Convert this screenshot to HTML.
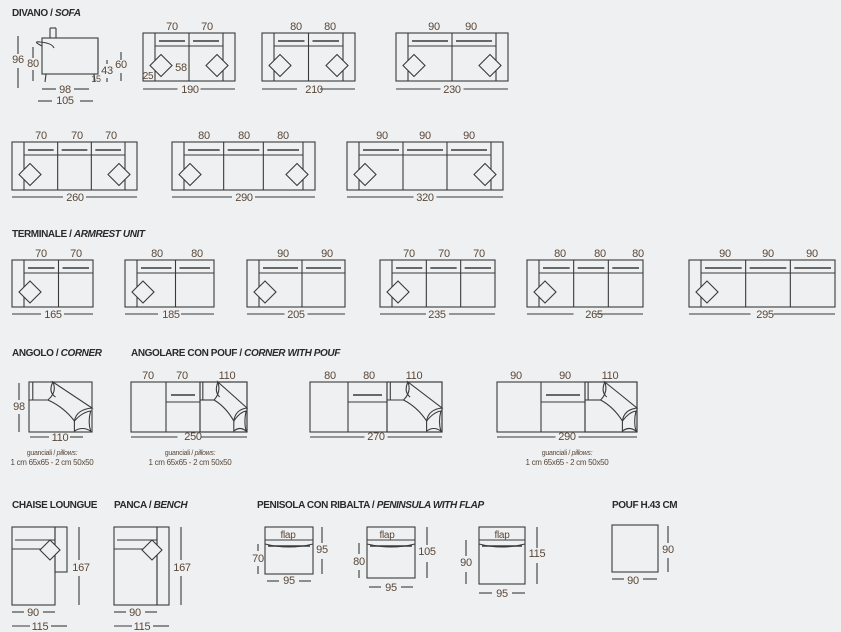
<!DOCTYPE html>
<html><head><meta charset="utf-8"><style>
html,body{margin:0;padding:0;background:#eff0f2;}
svg{display:block;}
text{font-family:"Liberation Sans",sans-serif;}
.h{font-size:10px;font-weight:bold;fill:#2a2a2a;letter-spacing:-0.4px;}
.hi{font-style:italic;}
.d{font-size:11px;fill:#5a4838;letter-spacing:-0.3px;}
.s{font-size:8px;fill:#5a4838;letter-spacing:-0.3px;}
</style></head><body>
<svg id="s" width="841" height="632" viewBox="0 0 841 632" xmlns="http://www.w3.org/2000/svg">
<g id="g" fill="none" stroke="#3a3a3a" stroke-width="1.1"></g>
<text class="h" x="12" y="16">DIVANO / <tspan class="hi">SOFA</tspan></text>
<text class="h" x="12" y="237">TERMINALE / <tspan class="hi">ARMREST UNIT</tspan></text>
<text class="h" x="12" y="356">ANGOLO / <tspan class="hi">CORNER</tspan></text>
<text class="h" x="131" y="356">ANGOLARE CON POUF  / <tspan class="hi">CORNER WITH POUF</tspan></text>
<text class="h" x="12" y="508">CHAISE LOUNGUE</text>
<text class="h" x="114" y="508">PANCA / <tspan class="hi">BENCH</tspan></text>
<text class="h" x="257" y="508">PENISOLA CON RIBALTA / <tspan class="hi">PENINSULA WITH FLAP</tspan></text>
<text class="h" x="612" y="508">POUF H.43 CM</text>
<g class="d" text-anchor="middle">
<text x="18" y="63">96</text><text x="33" y="67">80</text><text x="107" y="74">43</text><text x="121" y="68">60</text><text x="96" y="82" font-size="9">15</text>
<text x="65" y="93">98</text><text x="65" y="104">105</text><text x="148" y="79" font-size="10">25</text><text x="181" y="71">58</text>
<text x="172" y="30">70</text><text x="207" y="30">70</text><text x="190" y="93">190</text>
<text x="296" y="30">80</text><text x="330" y="30">80</text><text x="314" y="93">210</text>
<text x="434" y="30">90</text><text x="471" y="30">90</text><text x="452" y="93">230</text>
<text x="41" y="139">70</text><text x="77" y="139">70</text><text x="111" y="139">70</text><text x="75" y="201">260</text>
<text x="204" y="139">80</text><text x="244" y="139">80</text><text x="283" y="139">80</text><text x="244" y="201">290</text>
<text x="382" y="139">90</text><text x="425" y="139">90</text><text x="469" y="139">90</text><text x="425" y="201">320</text>
<text x="41" y="257">70</text><text x="76" y="257">70</text><text x="53" y="318">165</text>
<text x="157" y="257">80</text><text x="197" y="257">80</text><text x="171" y="318">185</text>
<text x="283" y="257">90</text><text x="327" y="257">90</text><text x="296" y="318">205</text>
<text x="409" y="257">70</text><text x="444" y="257">70</text><text x="479" y="257">70</text><text x="437" y="318">235</text>
<text x="560" y="257">80</text><text x="600" y="257">80</text><text x="638" y="257">80</text><text x="594" y="318">265</text>
<text x="725" y="257">90</text><text x="768" y="257">90</text><text x="812" y="257">90</text><text x="765" y="318">295</text>
<text x="19" y="410">98</text><text x="60" y="441">110</text>
<text x="148" y="379">70</text><text x="182" y="379">70</text><text x="227" y="379">110</text><text x="193" y="440">250</text>
<text x="330" y="379">80</text><text x="369" y="379">80</text><text x="414" y="379">110</text><text x="376" y="440">270</text>
<text x="516" y="379">90</text><text x="565" y="379">90</text><text x="610" y="379">110</text><text x="567" y="440">290</text>
<text x="81" y="571">167</text><text x="33" y="616">90</text><text x="40" y="630">115</text>
<text x="182" y="571">167</text><text x="135" y="616">90</text><text x="142" y="630">115</text>
<text x="288" y="538" font-size="10">flap</text><text x="258" y="562">70</text><text x="322" y="553">95</text><text x="289" y="584">95</text>
<text x="387" y="538" font-size="10">flap</text><text x="359" y="565">80</text><text x="427" y="555">105</text><text x="391" y="591">95</text>
<text x="502" y="538" font-size="10">flap</text><text x="466" y="566">90</text><text x="537" y="557">115</text><text x="502" y="597">95</text>
<text x="668" y="553">90</text><text x="633" y="584">90</text>
</g>
<g class="s" text-anchor="middle">
<text x="52" y="455" font-size="7">guanciali / <tspan font-style="italic">pillows:</tspan></text><text x="52" y="465">1 cm 65x65 - 2 cm 50x50</text>
<text x="190" y="455" font-size="7">guanciali / <tspan font-style="italic">pillows:</tspan></text><text x="190" y="465">1 cm 65x65 - 2 cm 50x50</text>
<text x="567" y="455" font-size="7">guanciali / <tspan font-style="italic">pillows:</tspan></text><text x="567" y="465">1 cm 65x65 - 2 cm 50x50</text>
</g>
</svg>
<script>
var g=document.getElementById('g'),NS='http://www.w3.org/2000/svg';
function el(t,a){var e=document.createElementNS(NS,t);for(var k in a)e.setAttribute(k,a[k]);g.appendChild(e);return e;}
function R(x,y,w,h){el('rect',{x:x,y:y,width:w,height:h});}
function L(a,b,c,d,w){el('line',{x1:a,y1:b,x2:c,y2:d,'stroke-width':w||1.1});}
function P(d){el('path',{d:d});}
function dia(cx,cy,r){el('path',{d:'M'+(cx-r)+' '+cy+'L'+cx+' '+(cy-r)+'L'+(cx+r)+' '+cy+'L'+cx+' '+(cy+r)+'Z',fill:'#eff0f2'});}
function hdim(x0,x1,y,lab){var m=(x0+x1)/2,gap=lab*3+14;L(x0,y,m-gap/2,y);L(m+gap/2,y,x1,y);}
function sofa(x0,x1,y0,y1,n,both){var a=12,s0=x0+a,s1=both?x1-a:x1;R(x0,y0,x1-x0,y1-y0);L(s0,y0,s0,y1);if(both)L(s1,y0,s1,y1);
 var w=(s1-s0)/n,by=y0+13;L(s0,by,s1,by);for(var i=1;i<n;i++)L(s0+w*i,y0,s0+w*i,y1);
 for(var i=0;i<n;i++)L(s0+w*i+4,by-5,s0+w*(i+1)-4,by-5,1.6);
 var my=(by+y1)/2+2;dia(s0+6,my,11);if(both)dia(s1-6,my,11);}
L(x=0,0,0,0,0);
// side view
R(42,38,56,36);P('M42 46 q-10 -5 -2 -4 q12 1 14 6');L(50,28,50,38);L(56,28,56,38);L(50,28,56,28);
L(46,74,45,82);L(94,74,95,82);L(98,40,98,70);
L(18,36,18,54);L(18,68,18,88);L(33,47,33,58);L(33,70,33,81);L(107,60,107,64);L(107,78,107,82);L(121,52,121,60);L(121,73,121,81);
L(42,89,56,89);L(74,89,89,89);L(38,101,52,101);L(80,101,93,101);
sofa(143,235,33,81,2,1);hdim(143,235,89,3);
sofa(262,355,33,81,2,1);hdim(262,355,89,3);
sofa(396,508,33,81,2,1);hdim(396,508,89,3);
sofa(12,137,142,190,3,1);hdim(12,137,197,3);
sofa(172,315,142,190,3,1);hdim(172,315,197,3);
sofa(347,503,142,190,3,1);hdim(347,503,197,3);
sofa(12,93,260,307,2,0);hdim(12,93,314,3);
sofa(125,214,260,307,2,0);hdim(125,214,314,3);
sofa(247,345,260,307,2,0);hdim(247,345,314,3);
sofa(380,495,260,307,3,0);hdim(380,495,314,3);
sofa(527,643,260,307,3,0);hdim(527,643,314,3);
sofa(689,835,260,307,3,0);hdim(689,835,314,3);
// corner
function corner(x,y,w,h){R(x,y,w,h);var f=function(a,b){return (x+a*w).toFixed(1)+' '+(y+b*h).toFixed(1);};
 L(x,y+0.36*h,x+0.3*w,y+0.36*h);L(x+0.06*w,y,x+0.06*w,y+0.36*h);
 P('M'+f(0.3,0.36)+'Q'+f(0.45,0.2)+' '+f(0.38,0)+'Q'+f(0.68,0.25)+' '+f(1,0.52)+'Q'+f(0.75,0.55)+' '+f(0.72,0.78)+'Q'+f(0.55,0.5)+' '+f(0.3,0.36)+'Z');
 P('M'+f(0.72,0.78)+'Q'+f(0.85,0.6)+' '+f(0.98,0.58)+'Q'+f(0.93,0.8)+' '+f(0.98,0.98)+'Q'+f(0.85,0.88)+' '+f(0.72,0.98)+'Z');
 P('M'+f(0.38,0)+'Q'+f(0.3,0.2)+' '+f(0.42,0.3));}
corner(29,382,63,50);L(19,383,19,400);L(19,414,19,432);L(30,437,49,437);L(70,437,83,437);
function ang(x0,x1,y0,y1,ws){var x=x0;R(x0,y0,x1-x0,y1-y0);x+=ws[0];L(x,y0,x,y1);var x2=x+ws[1];L(x2,y0,x2,y1);L(x,y0+20,x2,y0+20);L(x+5,y0+13,x2-5,y0+13,1.6);corner(x2,y0,x1-x2,y1-y0);}
ang(131,247,382,432,[35,34]);hdim(131,247,437,3);
ang(310,442,382,432,[38,39]);hdim(310,442,437,3);
ang(497,637,382,432,[44,44]);hdim(497,637,437,3);
// chaise
R(12,527,43,78);R(55,527,12,45);L(15,540,55,540);L(12,549,45,549);dia(50,550,10);L(79,527,79,560);L(79,576,79,605);
L(12,612,24,612);L(43,612,55,612);L(12,626,30,626);L(51,626,67,626);
R(114,527,43,78);R(157,527,12,78);L(117,540,157,540);L(114,549,145,549);dia(152,550,10);L(181,527,181,560);L(181,576,181,605);
L(114,612,126,612);L(145,612,157,612);L(114,626,132,626);L(153,626,169,626);
function pen(x,y,w,h){R(x,y,w,h);L(x,y+13,x+w,y+13);P('M'+x+' '+(y+17)+'q'+(w/2)+' 6 '+w+' 0');L(x+3,y+19,x+w-3,y+19,1.5);}
pen(265,527,48,47);L(322,527,322,543);L(322,559,322,574);L(258,544,258,551);L(258,566,258,574);L(267,581,279,581);L(299,581,311,581);
pen(367,527,48,51);L(427,527,427,545);L(427,562,427,578);L(359,543,359,554);L(359,570,359,578);L(369,587,381,587);L(401,587,413,587);
pen(479,527,46,57);L(537,527,537,548);L(537,563,537,584);L(466,540,466,556);L(466,572,466,584);L(479,593,492,593);L(512,593,525,593);
R(612,525,46,47);L(668,526,668,543);L(668,558,668,572);L(612,579,624,579);L(643,579,657,579);
</script>
</body></html>
